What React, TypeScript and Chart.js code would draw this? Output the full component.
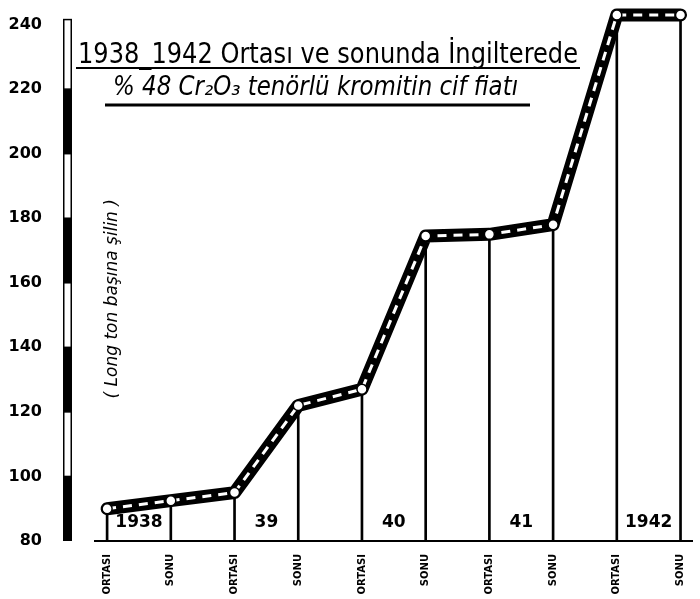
import React, { useEffect, useRef } from 'react';
import { Chart, registerables } from 'chart.js';

Chart.register(...registerables);

const periodLabels = ['ORTASI', 'SONU', 'ORTASI', 'SONU', 'ORTASI', 'SONU', 'ORTASI', 'SONU', 'ORTASI', 'SONU'];
const yearLabels = ['1938', '39', '40', '41', '1942'];
const prices = [90, 92.5, 95, 122, 127, 174.5, 175, 178, 243, 243];
const yTicks = [80, 100, 120, 140, 160, 180, 200, 220, 240];
const titleLine1 = '1938_1942 Ortası ve sonunda İngilterede';
const titleLine2 = '% 48 Cr₂O₃ tenörlü kromitin cif fiatı';
const yAxisTitle = '( Long ton başına şilin )';

const decorPlugin = {
  id: 'decor',
  beforeDatasetsDraw(chart: any) {
    const { ctx, chartArea } = chart;
    const ys = chart.scales.y;
    const x0 = chartArea.left - 32;
    const w = 9;
    ctx.save();
    for (let k = 0; k < yTicks.length - 1; k++) {
      const yTop = ys.getPixelForValue(yTicks[k + 1]) - (k === yTicks.length - 2 ? 5 : 0);
      const yBot = ys.getPixelForValue(yTicks[k]);
      if (k % 2 === 0) {
        ctx.fillStyle = '#000';
        ctx.fillRect(x0, yTop, w, yBot - yTop);
      } else {
        ctx.fillStyle = '#fff';
        ctx.fillRect(x0, yTop, w, yBot - yTop);
        ctx.strokeStyle = '#000';
        ctx.lineWidth = 1.5;
        ctx.strokeRect(x0 + 0.75, yTop, w - 1.5, yBot - yTop);
      }
    }
    ctx.restore();
  },
  afterDraw(chart: any) {
    const { ctx } = chart;
    const xs = chart.scales.x;
    const ys = chart.scales.y;
    ctx.save();
    ctx.fillStyle = '#000';
    ctx.strokeStyle = '#000';
    // title
    ctx.textAlign = 'left';
    ctx.textBaseline = 'alphabetic';
    ctx.font = '28px "DejaVu Sans"';
    ctx.fillText(titleLine1, 78, 63, 500);
    ctx.lineWidth = 2;
    ctx.beginPath();
    ctx.moveTo(76, 68);
    ctx.lineTo(580, 68);
    ctx.stroke();
    ctx.font = 'italic 26px "DejaVu Sans"';
    ctx.fillText(titleLine2, 113, 95, 405);
    ctx.lineWidth = 3;
    ctx.beginPath();
    ctx.moveTo(105, 105);
    ctx.lineTo(530, 105);
    ctx.stroke();
    // year labels
    ctx.font = 'bold 17px "DejaVu Sans"';
    ctx.textAlign = 'center';
    ctx.textBaseline = 'middle';
    yearLabels.forEach((lab, i) => {
      ctx.fillText(lab, xs.getPixelForValue(i * 2 + 0.5), ys.bottom - 18);
    });
    // y axis title
    ctx.translate(chart.chartArea.left + 18, (ys.top + ys.bottom) / 2 + 25);
    ctx.rotate(-Math.PI / 2);
    ctx.font = 'italic 17px "DejaVu Sans"';
    ctx.fillText(yAxisTitle, 0, 0, 205);
    ctx.restore();
  },
};

export default function App() {
  const ref = useRef<HTMLCanvasElement>(null);
  useEffect(() => {
    if (!ref.current) return;
    const pts = prices.map((v, i) => ({ x: i, y: v }));
    const chart = new Chart(ref.current, {
      type: 'bar',
      data: {
        datasets: [
          {
            type: 'bar',
            data: pts,
            backgroundColor: '#000',
            barThickness: 2,
            order: 3,
          } as any,
          {
            type: 'line',
            data: pts,
            borderColor: '#000',
            borderWidth: 13,
            pointRadius: 0,
            tension: 0,
            borderJoinStyle: 'round',
            borderCapStyle: 'round',
            clip: false,
            order: 2,
          } as any,
          {
            type: 'line',
            data: pts,
            borderColor: '#fff',
            borderWidth: 3,
            borderDash: [9, 7],
            pointRadius: 5,
            pointBackgroundColor: '#fff',
            pointBorderColor: '#000',
            pointBorderWidth: 1.5,
            tension: 0,
            clip: false,
            order: 1,
          } as any,
        ],
      },
      options: {
        animation: false,
        responsive: false,
        devicePixelRatio: 1,
        layout: { padding: { top: 5, right: 8, left: 0, bottom: 0 } },
        plugins: { legend: { display: false }, tooltip: { enabled: false }, title: { display: false } },
        scales: {
          x: {
            type: 'linear',
            min: -0.19,
            max: 9.18,
            offset: false,
            grid: { display: false, drawTicks: false },
            border: { display: true, color: '#000', width: 2 },
            afterBuildTicks: (s: any) => {
              s.ticks = periodLabels.map((_, i) => ({ value: i }));
            },
            afterFit: (s: any) => {
              s.height = 58;
              s.paddingLeft = 0;
              s.paddingRight = 0;
              s.paddingTop = 0;
              s.paddingBottom = 0;
            },
            ticks: {
              autoSkip: false,
              minRotation: 90,
              maxRotation: 90,
              padding: 13,
              color: '#000',
              font: { family: 'DejaVu Sans', size: 10, weight: 'bold' },
              callback: (v: any) => periodLabels[v] ?? '',
            },
          },
          y: {
            type: 'linear',
            min: 80,
            max: 245.6,
            grid: { display: false, drawTicks: false },
            border: { display: false },
            afterBuildTicks: (s: any) => {
              s.ticks = yTicks.map((v) => ({ value: v }));
            },
            afterFit: (s: any) => {
              s.width = 95;
              s.paddingTop = 0;
              s.paddingBottom = 0;
              s.paddingLeft = 0;
              s.paddingRight = 0;
            },
            ticks: {
              padding: 53,
              color: '#000',
              font: { family: 'DejaVu Sans', size: 16, weight: 'bold' },
            },
          },
        },
      },
      plugins: [decorPlugin],
    } as any);
    return () => chart.destroy();
  }, []);
  return (
    <div style={{ position: 'fixed', left: 0, top: 0, width: 700, height: 599, background: '#fff' }}>
      <canvas ref={ref} width={700} height={599} />
    </div>
  );
}
